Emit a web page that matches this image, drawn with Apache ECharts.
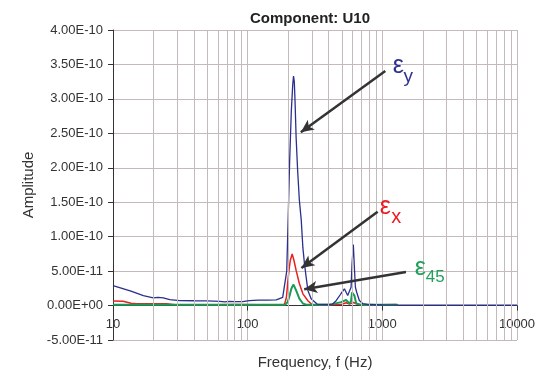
<!DOCTYPE html>
<html>
<head>
<meta charset="utf-8">
<script src="https://cdn.jsdelivr.net/npm/echarts@6/dist/echarts.min.js"></script>
<style>html,body{margin:0;padding:0;background:#fff;}#c{width:555px;height:373px;}</style>
</head>
<body>
<div id="c"></div>
<script>
// ---- data ----
var title = 'Component: U10';
var xName = 'Frequency, f (Hz)';
var yName = 'Amplitude';
var xTicks = [10, 100, 1000, 10000];
var yMin = -5e-11, yMax = 4e-10, yStep = 5e-11;

// εy (blue)
var blueF = [10, 13.6, 16.8, 19.9, 21.6, 23.6, 26.4, 31.3, 40, 50, 62, 67.4, 73.5, 80, 91.8, 103, 120, 140, 163, 182, 188, 195, 199, 205, 211, 216, 219, 222, 225, 229, 235, 242, 250, 257, 264, 272, 280, 296, 329, 380, 426, 454, 494, 523, 538, 553, 570, 586, 596, 609, 620, 631, 645, 675, 715, 800, 1000, 2000, 5000, 10000];
var blueV = [2.9e-11, 2.08e-11, 1.45e-11, 1.12e-11, 1.2e-11, 1.12e-11, 8.7e-12, 7.3e-12, 7.0e-12, 6.8e-12, 6.2e-12, 5.4e-12, 6.2e-12, 5.6e-12, 5.8e-12, 7.3e-12, 8.0e-12, 8.0e-12, 8.3e-12, 1.2e-11, 1.4e-11, 5.0e-11, 1.13e-10, 2.1e-10, 2.83e-10, 3.2e-10, 3.33e-10, 3.25e-10, 2.94e-10, 2.44e-10, 1.96e-10, 1.53e-10, 1.24e-10, 8.4e-11, 6.1e-11, 4.1e-11, 2.2e-11, 1.0e-11, 2.0e-12, 1.5e-12, 2.0e-12, 7.0e-12, 1.75e-11, 2.43e-11, 2.2e-11, 1.45e-11, 1.2e-11, 2.66e-11, 6.1e-11, 8.87e-11, 5.57e-11, 2.66e-11, 1.93e-11, 7.3e-12, 2.9e-12, 1.5e-12, 1.0e-12, 5e-13, 5e-13, 5e-13];

// εx (red)
var redF = [10, 11.9, 13.6, 15.0, 25.0, 28.8, 60, 80, 120, 180, 188, 194, 199, 203, 207, 214, 221, 229, 242, 257, 280, 300, 400, 500, 540, 570, 610, 650, 700, 1000, 1260, 1300];
var redV = [6.5e-12, 6.2e-12, 3.3e-12, 2.5e-12, 2.5e-12, 1e-12, 1e-12, 1.5e-12, 1e-12, 1e-12, 2e-12, 1.2e-11, 3.6e-11, 5.2e-11, 6.5e-11, 7.5e-11, 6.5e-11, 5.1e-11, 3.2e-11, 1.7e-11, 7e-12, 1.5e-12, 1e-12, 2e-12, 4e-12, 2e-12, 4.5e-12, 2e-12, 1e-12, 1e-12, 1.5e-12, 1e-12];

// ε45 (green)
var greenF = [10, 100, 190, 198, 205, 210, 214, 219, 224, 229, 242, 257, 275, 400, 494, 538, 570, 585, 596, 620, 640, 700, 1300];
var greenV = [1e-12, 1e-12, 1e-12, 5e-12, 1.45e-11, 2.3e-11, 2.7e-11, 3.05e-11, 2.8e-11, 2.2e-11, 1e-11, 3e-12, 1e-12, 1e-12, 5e-12, 8e-12, 3e-12, 6e-12, 1.9e-11, 1.45e-11, 3e-12, 1e-12, 1e-12];

// annotations: arrow [tail, head] and label anchors (data coordinates)
var arrowY = [[1052, 3.406e-10], [248.2, 2.516e-10]];
var arrowX = [[923, 1.360e-10], [250.8, 5.44e-11]];
var arrow45 = [[1498, 4.88e-11], [263, 2.38e-11]];
var labelY = {eps: [1313, 3.472e-10], sub: [1558, 3.32e-10], text: 'y'};
var labelX = {eps: [1052, 1.429e-10], sub: [1270, 1.28e-10], text: 'x'};
var label45 = {eps: [1912, 5.42e-11], sub: [2470, 4.05e-11], text: '45'};

// ---- chart ----
var FONT = '"Liberation Sans", Arial, sans-serif';
var C_BLUE = '#2b2f8f', C_RED = '#e8201f', C_GREEN = '#1a9b55';
var C_GRID = '#c4baba';
var GRID = {left: 113, right: 38, top: 30, bottom: 33};
var H = 373;

function pairs(f, v) { return f.map(function (x, i) { return [x, v[i]]; }); }
function fmtE(v) {
  if (Math.abs(v) < 1e-20) v = 0;
  var s = v.toExponential(2).split('e');
  var sign = s[1].charAt(0), d = s[1].slice(1);
  if (d.length < 2) d = '0' + d;
  return s[0] + 'E' + sign + d;
}
// minor log gridlines 2..9 within each decade of the axis
var minorGrid = [];
for (var k = 0; k < xTicks.length - 1; k++) {
  for (var m = 2; m <= 9; m++) minorGrid.push({xAxis: xTicks[k] * m});
}
// the x axis sits on y = 0; shift its label/name band up to that line
var gridH = H - GRID.top - GRID.bottom;
var xOffset = -gridH * (0 - yMin) / (yMax - yMin);

function epsPoint(lbl, color, subSize) {
  return [
    {coord: lbl.eps, label: {show: true, position: 'inside', formatter: 'ε', color: color, fontSize: 25, fontFamily: FONT}},
    {coord: lbl.sub, label: {show: true, position: 'inside', formatter: lbl.text, color: color, fontSize: subSize, fontFamily: FONT}}
  ];
}
function arrow(a) {
  return [{coord: a[0], symbol: 'none'}, {coord: a[1], symbol: 'arrow', symbolSize: [9, 13]}];
}

var chart = echarts.init(document.getElementById('c'), null, {renderer: 'canvas'});
chart.setOption({
  animation: false,
  backgroundColor: '#fff',
  title: {
    text: title, left: 245, top: 6,
    textStyle: {fontFamily: FONT, fontSize: 15, fontWeight: 'bold', color: '#222'}
  },
  grid: {left: GRID.left, right: GRID.right, top: GRID.top, bottom: GRID.bottom, containLabel: false, outerBoundsMode: 'none'},
  xAxis: {
    type: 'log', logBase: 10, min: 10, max: 10000, offset: xOffset,
    name: xName, nameLocation: 'middle', nameGap: 50,
    nameTextStyle: {fontFamily: FONT, fontSize: 15, color: '#333'},
    axisLine: {onZero: true, lineStyle: {color: '#333', width: 1}},
    axisTick: {show: true, length: 5, lineStyle: {color: '#333'}},
    axisLabel: {fontFamily: FONT, fontSize: 13, color: '#333', margin: 12, formatter: function (v) { return String(Math.round(v)); }},
    splitLine: {show: true, lineStyle: {color: C_GRID, width: 1}},
    minorTick: {show: false}, minorSplitLine: {show: false}
  },
  yAxis: {
    type: 'value', min: yMin, max: yMax, interval: yStep,
    name: yName, nameLocation: 'middle', nameGap: 77, nameRotate: 90,
    nameTextStyle: {fontFamily: FONT, fontSize: 15, color: '#333'},
    axisLine: {show: true, onZero: false, lineStyle: {color: '#333', width: 1}},
    axisTick: {show: true, length: 5, lineStyle: {color: '#333'}},
    axisLabel: {fontFamily: FONT, fontSize: 13, color: '#333', margin: 10, formatter: fmtE},
    splitLine: {show: true, lineStyle: {color: C_GRID, width: 1}}
  },
  series: [
    {
      type: 'line', name: 'grid', data: [], z: 1, silent: true,
      markLine: {
        silent: true, symbol: ['none', 'none'], animation: false,
        label: {show: false}, emphasis: {disabled: true},
        lineStyle: {color: C_GRID, width: 1, type: 'solid'},
        data: minorGrid
      }
    },
    {type: 'line', name: 'εx', data: pairs(redF, redV), showSymbol: false, symbol: 'none', z: 2,
     lineStyle: {color: C_RED, width: 1.5}, itemStyle: {color: C_RED}, emphasis: {disabled: true}},
    {type: 'line', name: 'ε45', data: pairs(greenF, greenV), showSymbol: false, symbol: 'none', z: 3,
     lineStyle: {color: C_GREEN, width: 2}, itemStyle: {color: C_GREEN}, emphasis: {disabled: true}},
    {type: 'line', name: 'εy', data: pairs(blueF, blueV), showSymbol: false, symbol: 'none', z: 4,
     lineStyle: {color: C_BLUE, width: 1.3}, itemStyle: {color: C_BLUE}, emphasis: {disabled: true}},
    {
      type: 'line', name: 'annot', data: [], z: 6, silent: true,
      markLine: {
        silent: true, animation: false, label: {show: false}, emphasis: {disabled: true},
        lineStyle: {color: '#333', width: 2.5, type: 'solid'},
        itemStyle: {color: '#333'},
        data: [arrow(arrowY), arrow(arrowX), arrow(arrow45)]
      },
      markPoint: {
        silent: true, animation: false, symbol: 'circle', symbolSize: 1,
        itemStyle: {color: 'rgba(0,0,0,0)'},
        data: [].concat(epsPoint(labelY, '#2e3192', 19), epsPoint(labelX, '#ed1c24', 20), epsPoint(label45, '#21a05c', 17))
      }
    }
  ]
});
</script>
</body>
</html>
